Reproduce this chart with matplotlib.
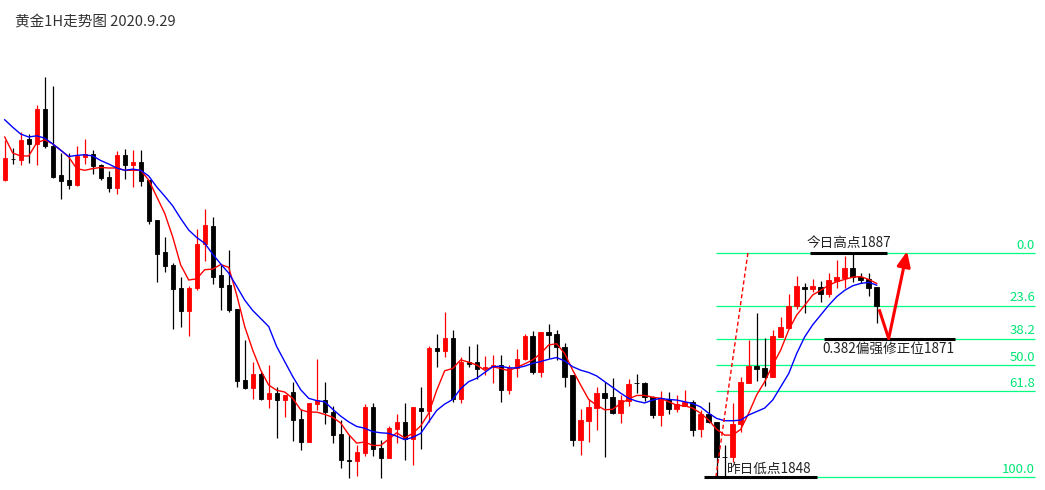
import numpy as np
import matplotlib.pyplot as plt

plt.rcParams['font.family'] = ['Noto Sans CJK SC', 'DejaVu Sans']

title = "黄金1H走势图 2020.9.29"

# 1H candles
opens = [
    1899.7, 1903.4, 1903.2, 1906.9, 1906.0, 1912.1, 1905.6, 1900.6, 1899.7, 1898.8,
    1903.7, 1904.2, 1902.3, 1900.2, 1898.3, 1904.0, 1902.3, 1902.8, 1899.7, 1892.8,
    1887.2, 1884.9, 1880.9, 1876.9, 1880.9, 1888.6, 1891.7, 1883.2, 1881.4, 1877.3,
    1864.9, 1863.5, 1865.9, 1861.6, 1862.6, 1861.4, 1862.8, 1858.1, 1854.1, 1860.7,
    1861.4, 1859.3, 1855.5, 1850.9, 1850.8, 1852.2, 1860.2, 1853.1, 1851.3, 1856.3,
    1857.6, 1854.6, 1860.0, 1859.5, 1870.5, 1869.9, 1872.2, 1861.6, 1868.0, 1868.0,
    1867.0, 1867.1, 1867.5, 1863.2, 1867.0, 1868.5, 1872.6, 1866.3, 1873.3, 1872.9,
    1870.6, 1865.8, 1854.4, 1857.8, 1860.0, 1862.6, 1861.9, 1859.1, 1861.2, 1864.4,
    1864.4, 1861.9, 1858.8, 1861.6, 1859.8, 1860.4, 1861.1, 1856.3, 1859.0, 1857.6,
    1851.5, 1851.5, 1857.2, 1864.4, 1867.3, 1867.0, 1865.4, 1872.4, 1873.9, 1877.8,
    1881.1, 1880.7, 1881.1, 1879.9, 1882.1, 1882.7, 1884.4, 1882.8, 1882.5, 1881.1,
]
highs = [
    1906.7, 1905.3, 1908.1, 1907.7, 1912.8, 1917.6, 1916.1, 1904.4, 1904.4, 1905.6,
    1906.9, 1904.9, 1902.5, 1901.3, 1904.8, 1905.1, 1904.9, 1904.9, 1899.7, 1892.8,
    1889.8, 1885.3, 1882.8, 1881.3, 1891.2, 1894.7, 1893.3, 1884.9, 1887.5, 1877.3,
    1871.9, 1868.0, 1866.3, 1867.5, 1863.7, 1862.3, 1864.5, 1859.8, 1860.9, 1868.5,
    1864.5, 1860.4, 1857.9, 1855.3, 1853.6, 1860.7, 1860.9, 1854.4, 1856.9, 1859.0,
    1860.9, 1860.2, 1863.7, 1870.8, 1872.9, 1876.7, 1873.6, 1868.9, 1870.8, 1871.1,
    1869.1, 1869.2, 1869.2, 1867.5, 1870.3, 1872.9, 1873.4, 1873.3, 1874.6, 1873.6,
    1871.3, 1865.8, 1859.8, 1861.6, 1863.7, 1864.5, 1865.2, 1862.3, 1865.0, 1865.9,
    1864.5, 1862.1, 1863.0, 1862.8, 1862.3, 1863.2, 1861.4, 1859.7, 1861.1, 1857.6,
    1853.6, 1860.9, 1865.4, 1871.9, 1876.6, 1872.2, 1873.6, 1875.9, 1879.9, 1883.0,
    1881.8, 1882.5, 1882.1, 1883.5, 1885.8, 1886.5, 1887.0, 1883.5, 1883.5, 1881.1,
]
lows = [
    1899.5, 1902.5, 1902.3, 1902.7, 1902.3, 1905.3, 1900.0, 1896.4, 1898.1, 1898.7,
    1902.5, 1900.8, 1899.7, 1897.6, 1897.3, 1899.9, 1898.5, 1898.7, 1892.0, 1882.0,
    1883.7, 1873.8, 1874.1, 1872.6, 1880.6, 1885.6, 1881.6, 1877.1, 1876.7, 1863.7,
    1863.3, 1861.6, 1861.4, 1860.0, 1854.8, 1858.5, 1854.3, 1852.7, 1854.1, 1859.6,
    1857.2, 1853.9, 1849.6, 1847.8, 1848.2, 1851.7, 1851.7, 1847.8, 1851.3, 1853.9,
    1851.0, 1850.1, 1852.9, 1857.6, 1867.2, 1868.9, 1861.1, 1860.9, 1867.2, 1865.0,
    1865.8, 1864.4, 1861.1, 1862.4, 1865.4, 1868.4, 1865.9, 1865.4, 1868.7, 1868.4,
    1863.7, 1853.4, 1851.8, 1854.1, 1856.2, 1851.5, 1859.0, 1857.4, 1860.4, 1862.6,
    1861.2, 1858.3, 1856.9, 1859.0, 1859.3, 1860.4, 1855.1, 1854.9, 1857.4, 1848.2,
    1848.2, 1850.6, 1855.8, 1864.4, 1864.7, 1863.8, 1865.4, 1872.4, 1873.9, 1877.3,
    1876.6, 1880.2, 1878.5, 1879.3, 1880.9, 1880.9, 1882.0, 1881.8, 1879.5, 1874.8,
]
closes = [
    1903.5, 1903.3, 1906.7, 1906.0, 1912.1, 1905.6, 1900.2, 1899.5, 1898.8, 1903.9,
    1904.2, 1902.1, 1900.0, 1898.3, 1904.0, 1902.3, 1902.8, 1899.5, 1892.6, 1886.8,
    1884.7, 1880.7, 1876.9, 1880.9, 1888.6, 1891.9, 1882.8, 1881.1, 1877.1, 1864.7,
    1863.5, 1865.9, 1861.6, 1862.6, 1861.4, 1862.3, 1857.9, 1854.1, 1860.9, 1861.4,
    1859.3, 1855.3, 1851.0, 1850.8, 1852.4, 1860.2, 1852.9, 1851.3, 1856.5, 1857.6,
    1854.6, 1860.2, 1859.5, 1870.5, 1869.9, 1872.2, 1861.6, 1868.0, 1867.7, 1866.8,
    1867.1, 1867.5, 1863.2, 1867.0, 1868.5, 1872.6, 1866.3, 1873.3, 1872.7, 1870.6,
    1865.4, 1854.4, 1857.9, 1860.2, 1862.6, 1861.8, 1859.1, 1861.4, 1864.2, 1864.3,
    1861.9, 1858.8, 1861.8, 1859.8, 1860.7, 1861.1, 1856.2, 1859.0, 1857.6, 1851.5,
    1851.4, 1857.2, 1864.5, 1867.3, 1866.8, 1865.4, 1872.6, 1874.1, 1877.8, 1881.3,
    1880.7, 1881.3, 1879.9, 1882.3, 1882.8, 1884.4, 1882.8, 1882.3, 1880.9, 1877.8,
]

# moving averages as drawn on the chart
ma_red = [
    1907.2, 1904.4, 1903.9, 1903.9, 1906.2, 1906.7, 1906.0, 1904.9, 1903.7, 1901.7,
    1901.4, 1901.7, 1901.9, 1901.8, 1901.8, 1901.4, 1901.4, 1901.4, 1899.7, 1896.8,
    1893.9, 1889.8, 1884.9, 1882.3, 1882.5, 1884.1, 1884.2, 1885.0, 1884.5, 1879.7,
    1874.2, 1870.1, 1866.6, 1864.0, 1863.1, 1862.8, 1861.7, 1859.7, 1859.3, 1859.3,
    1858.9, 1858.4, 1857.4, 1855.4, 1853.9, 1854.1, 1853.5, 1853.5, 1854.6, 1855.7,
    1854.8, 1855.6, 1856.9, 1859.1, 1863.1, 1866.5, 1866.9, 1868.4, 1868.0, 1867.5,
    1866.6, 1867.2, 1866.9, 1866.5, 1867.1, 1867.7, 1868.4, 1869.5, 1871.0, 1871.2,
    1869.5, 1866.6, 1864.0, 1861.5, 1860.5, 1859.7, 1859.8, 1860.8, 1861.6, 1862.2,
    1862.2, 1861.9, 1861.7, 1861.1, 1860.5, 1860.4, 1860.0, 1859.1, 1857.9, 1856.3,
    1855.3, 1855.3, 1856.3, 1859.1, 1862.3, 1864.6, 1867.5, 1870.1, 1873.6, 1876.2,
    1877.9, 1879.7, 1880.5, 1881.4, 1882.0, 1882.4, 1882.8, 1882.9, 1882.4, 1881.7,
]
ma_blue = [
    1910.2, 1908.9, 1907.7, 1907.2, 1907.4, 1907.0, 1906.0, 1904.9, 1903.8, 1904.0,
    1904.1, 1903.9, 1903.1, 1902.5, 1901.8, 1901.4, 1901.6, 1901.4, 1900.4, 1898.5,
    1896.9, 1895.2, 1893.0, 1891.0, 1889.7, 1888.7, 1886.8, 1885.1, 1883.5, 1881.2,
    1878.8, 1877.0, 1875.6, 1874.2, 1870.7, 1868.1, 1865.5, 1863.2, 1861.7, 1861.3,
    1861.1, 1859.8, 1858.6, 1857.6, 1856.8, 1856.5, 1855.9, 1855.7, 1855.6, 1855.1,
    1854.5, 1854.9, 1855.6, 1857.6, 1859.6, 1860.7, 1861.5, 1863.4, 1864.6, 1865.2,
    1866.2, 1867.2, 1867.3, 1867.0, 1867.0, 1867.3, 1867.8, 1868.1, 1868.5, 1868.8,
    1868.2, 1867.2, 1866.6, 1866.2, 1865.6, 1864.6, 1863.6, 1862.6, 1861.7, 1861.2,
    1860.9, 1861.4, 1861.7, 1861.5, 1861.4, 1861.1, 1860.8, 1860.2, 1859.1, 1858.2,
    1857.8, 1857.8, 1857.9, 1858.8, 1859.4, 1860.0, 1861.4, 1863.7, 1866.0, 1869.5,
    1872.4, 1874.5, 1876.2, 1877.9, 1879.4, 1880.5, 1881.3, 1881.7, 1881.9, 1881.4,
]

fib_high = 1887.0
fib_low = 1848.0
fib_levels = [0.0, 23.6, 38.2, 50.0, 61.8, 100.0]
fib_labels = ["0.0", "23.6", "38.2", "50.0", "61.8", "100.0"]

high_text = "今日高点1887"
low_text = "昨日低点1848"
target_text = "0.382偏强修正位1871"

n = len(closes)
x = np.arange(n)
o = np.array(opens)
c = np.array(closes)
up = c > o
cols = np.where(up, '#ff0000', '#000000')

fig = plt.figure(figsize=(10.45, 4.9), dpi=100)
ax = fig.add_axes([0, 0, 1, 1])
ax.set_xlim(-0.59, 130.04)
ax.set_ylim(1845.74, 1931.05)
ax.axis('off')

# fibonacci retracement
fib_prices = [fib_high - (fib_high - fib_low) * lv / 100 for lv in fib_levels]
ax.hlines(fib_prices, 88.9, 128.8, colors='#00ff80', lw=0.9, zorder=1)
for p, lab in zip(fib_prices, fib_labels):
    ax.text(128.8, p + 0.25, lab, color='#00e676', fontsize=9.5, ha='right', va='bottom')

# candles
ax.vlines(x, lows, highs, colors=cols, lw=0.9, zorder=2)
body_bottom = np.minimum(o, c)
body_h = np.abs(c - o)
ax.bar(x, body_h, width=0.55, bottom=body_bottom, color=cols, edgecolor=cols,
       linewidth=0.6, zorder=3)

ax.plot(x, ma_red, color='#ff0000', lw=1.0, zorder=4)
ax.plot(x, ma_blue, color='#0000ff', lw=1.0, zorder=4)

# marks for high / low / target
ax.hlines(fib_high, 100.7, 110.3, colors='black', lw=2.2, zorder=5)
ax.text(105.5, fib_high + 0.45, high_text, fontsize=9.8, color='#222222',
        ha='center', va='bottom')
ax.hlines(fib_low, 87.4, 101.5, colors='black', lw=2.2, zorder=5)
ax.text(90.3, fib_low + 1.5, low_text, fontsize=9.8, color='#222222',
        ha='left', va='center')
ax.hlines(fib_prices[2], 102.4, 118.8, colors='black', lw=2.2, zorder=5)
ax.text(102.2, fib_prices[2] - 1.8, target_text, fontsize=9.8, color='#222222',
        ha='left', va='center')

# dashed trend from yesterday's low
ax.plot([88.9, 92.9], [fib_low, fib_high], color='#ff0000', lw=1.0,
        ls=(0, (3, 2)), zorder=4)

# expected path arrow
ax.plot([n - 0.7, n + 0.5], [c[-1] - 0.6, fib_prices[2]], color='#ff0000',
        lw=2.2, solid_capstyle='butt', zorder=6)
ax.annotate('', xy=(n + 2.8, fib_high + 0.3), xytext=(n + 0.5, fib_prices[2]),
            arrowprops=dict(arrowstyle='-|>,head_length=0.9,head_width=0.4',
                            color='#ff0000', lw=2.2, shrinkA=0, shrinkB=0),
            zorder=6)

fig.text(15 / 1045, 1 - 22 / 490, title, fontsize=10.5, color='#333333',
         ha='left', va='center')

plt.savefig('out.png', dpi=100)
